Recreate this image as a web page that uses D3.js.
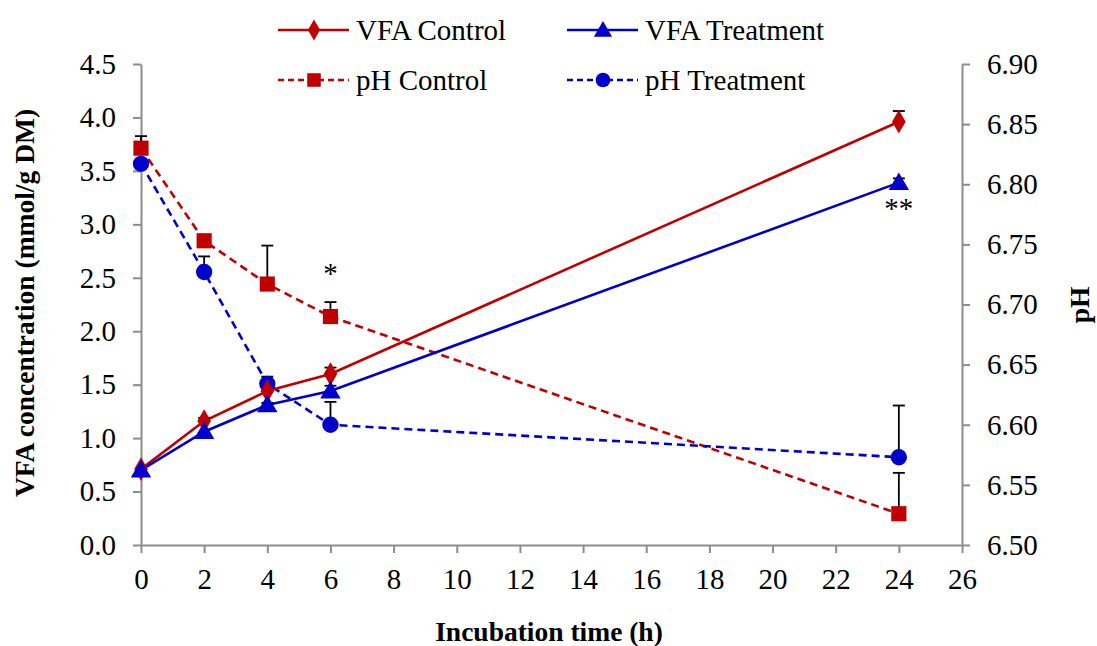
<!DOCTYPE html>
<html>
<head>
<meta charset="utf-8">
<script src="https://cdn.jsdelivr.net/npm/d3@7"></script>
<style>
  html, body { margin: 0; padding: 0; background: #fff; }
</style>
</head>
<body>
<svg id="chart" width="1097" height="646"></svg>
<script>
// Incubation times (h)
const hours = [0, 2, 4, 6, 24];

// VFA concentration (mmol/g DM), left axis
const vfaControl   = [0.71, 1.16, 1.44, 1.60, 3.96];
const vfaControlSE = [0.00, 0.03, 0.00, 0.06, 0.10];
const vfaTreatment   = [0.70, 1.06, 1.31, 1.44, 3.39];
const vfaTreatmentSE = [0.00, 0.00, 0.02, 0.05, 0.04];

// pH, right axis
const phControl   = [6.830, 6.753, 6.717, 6.690, 6.526];
const phControlSE = [0.010, 0.000, 0.032, 0.012, 0.034];
const phTreatment   = [6.817, 6.727, 6.634, 6.600, 6.573];
const phTreatmentSE = [0.000, 0.013, 0.006, 0.019, 0.043];

// Axis ticks
const xTicks = d3.range(0, 27, 2);
const leftTicks = d3.range(0, 4.51, 0.5);
const rightTicks = d3.range(6.50, 6.901, 0.05);

// Significance marks
const sigMarks = [
  { hour: 6, text: "*", axis: "ph", value: 6.718 },
  { hour: 24, text: "**", axis: "vfa", value: 3.06 }
];

const RED = "#C00000";
const BLUE = "#0000CC";
const AXIS = "#8c8c8c";
const FONT = "'Liberation Serif', 'Times New Roman', serif";
const FS = "29px";
const TITLE_FS = "27.5px";

const svg = d3.select("#chart").attr("font-family", FONT);
const margin = { left: 141, right: 962, top: 64, bottom: 545 };

const x = d3.scaleLinear().domain([0, 26]).range([margin.left, margin.right]);
const yL = d3.scaleLinear().domain([0, 4.5]).range([margin.bottom, margin.top]);
const yR = d3.scaleLinear().domain([6.5, 6.9]).range([margin.bottom, margin.top]);

// Axes
function styleAxis(g) {
  g.attr("font-family", FONT);
  g.selectAll(".domain").attr("stroke", AXIS).attr("stroke-width", 2);
  g.selectAll(".tick line").attr("stroke", AXIS).attr("stroke-width", 2);
  g.selectAll(".tick text").style("font-family", FONT).style("font-size", FS).attr("fill", "#000");
}

svg.append("g")
  .attr("transform", `translate(0,${margin.bottom})`)
  .call(d3.axisBottom(x).tickValues(xTicks).tickFormat(d3.format("d")).tickSize(8).tickSizeOuter(0).tickPadding(15))
  .call(styleAxis);

svg.append("g")
  .attr("transform", `translate(${margin.left},0)`)
  .call(d3.axisLeft(yL).tickValues(leftTicks).tickFormat(d3.format(".1f")).tickSize(8).tickSizeOuter(0).tickPadding(17))
  .call(styleAxis);

svg.append("g")
  .attr("transform", `translate(${margin.right},0)`)
  .call(d3.axisRight(yR).tickValues(rightTicks).tickFormat(d3.format(".2f")).tickSize(8).tickSizeOuter(0).tickPadding(17))
  .call(styleAxis);

// Axis titles
function title(sel) {
  return sel.attr("text-anchor", "middle")
    .style("font-family", FONT).style("font-size", TITLE_FS).style("font-weight", "bold");
}

svg.append("text")
  .attr("transform", `translate(34,303) rotate(-90)`)
  .call(title)
  .text("VFA concentration (mmol/g DM)");

svg.append("text")
  .attr("transform", `translate(1089,305) rotate(-90)`)
  .call(title)
  .text("pH");

svg.append("text")
  .attr("x", 549).attr("y", 641)
  .call(title)
  .text("Incubation time (h)");

// Series definitions
const series = [
  { name: "pH Control", vals: phControl, se: phControlSE, y: yR, color: RED, dash: "8,5", symbol: d3.symbolSquare, size: 230 },
  { name: "pH Treatment", vals: phTreatment, se: phTreatmentSE, y: yR, color: BLUE, dash: "8,5", symbol: d3.symbolCircle, size: 210 },
  { name: "VFA Control", vals: vfaControl, se: vfaControlSE, y: yL, color: RED, dash: null, symbol: d3.symbolDiamond, size: 160 },
  { name: "VFA Treatment", vals: vfaTreatment, se: vfaTreatmentSE, y: yL, color: BLUE, dash: null, symbol: d3.symbolTriangle, size: 180 }
];

// Lines
series.forEach(s => {
  const line = d3.line().x((d, i) => x(hours[i])).y(d => s.y(d));
  svg.append("path")
    .datum(s.vals)
    .attr("d", line)
    .attr("fill", "none")
    .attr("stroke", s.color)
    .attr("stroke-width", 2.6)
    .attr("stroke-dasharray", s.dash);
});

// Error bars (upper only)
series.forEach(s => {
  const g = svg.append("g");
  s.vals.forEach((v, i) => {
    if (!s.se[i]) return;
    const cx = x(hours[i]);
    const y0 = s.y(v);
    const y1 = s.y(v + s.se[i]);
    g.append("line").attr("x1", cx).attr("x2", cx).attr("y1", y0).attr("y2", y1)
      .attr("stroke", "#000").attr("stroke-width", 1.8);
    g.append("line").attr("x1", cx - 6).attr("x2", cx + 6).attr("y1", y1).attr("y2", y1)
      .attr("stroke", "#000").attr("stroke-width", 1.8);
  });
});

// Markers
series.forEach(s => {
  const sym = d3.symbol().type(s.symbol).size(s.size);
  svg.append("g").selectAll("path")
    .data(s.vals)
    .join("path")
    .attr("d", sym)
    .attr("transform", (d, i) => `translate(${x(hours[i])},${s.y(d) + (s.symbol === d3.symbolTriangle ? 1.5 : 0)})`)
    .attr("fill", s.color);
});

// Significance asterisks
sigMarks.forEach(m => {
  const yy = m.axis === "ph" ? yR(m.value) : yL(m.value);
  svg.append("text")
    .attr("x", x(m.hour)).attr("y", yy)
    .attr("text-anchor", "middle")
    .style("font-family", FONT)
    .style("font-size", FS)
    .text(m.text);
});

// Legend
const legendItems = [
  { s: series[2], lx: 278, ly: 30 },
  { s: series[3], lx: 567, ly: 30 },
  { s: series[0], lx: 278, ly: 80 },
  { s: series[1], lx: 567, ly: 80 }
];
legendItems.forEach(it => {
  const g = svg.append("g").attr("transform", `translate(${it.lx},${it.ly})`);
  g.append("line").attr("x1", 0).attr("x2", 71).attr("y1", 0).attr("y2", 0)
    .attr("stroke", it.s.color).attr("stroke-width", 2.6)
    .attr("stroke-dasharray", it.s.dash ? "6,4" : null);
  g.append("path")
    .attr("d", d3.symbol().type(it.s.symbol).size(it.s.size * 0.8)())
    .attr("transform", `translate(36,${it.s.symbol === d3.symbolTriangle ? 1.5 : 0})`)
    .attr("fill", it.s.color);
  g.append("text").attr("x", 78).attr("y", 10)
    .style("font-family", FONT)
    .style("font-size", FS)
    .text(it.s.name);
});
</script>
</body>
</html>
